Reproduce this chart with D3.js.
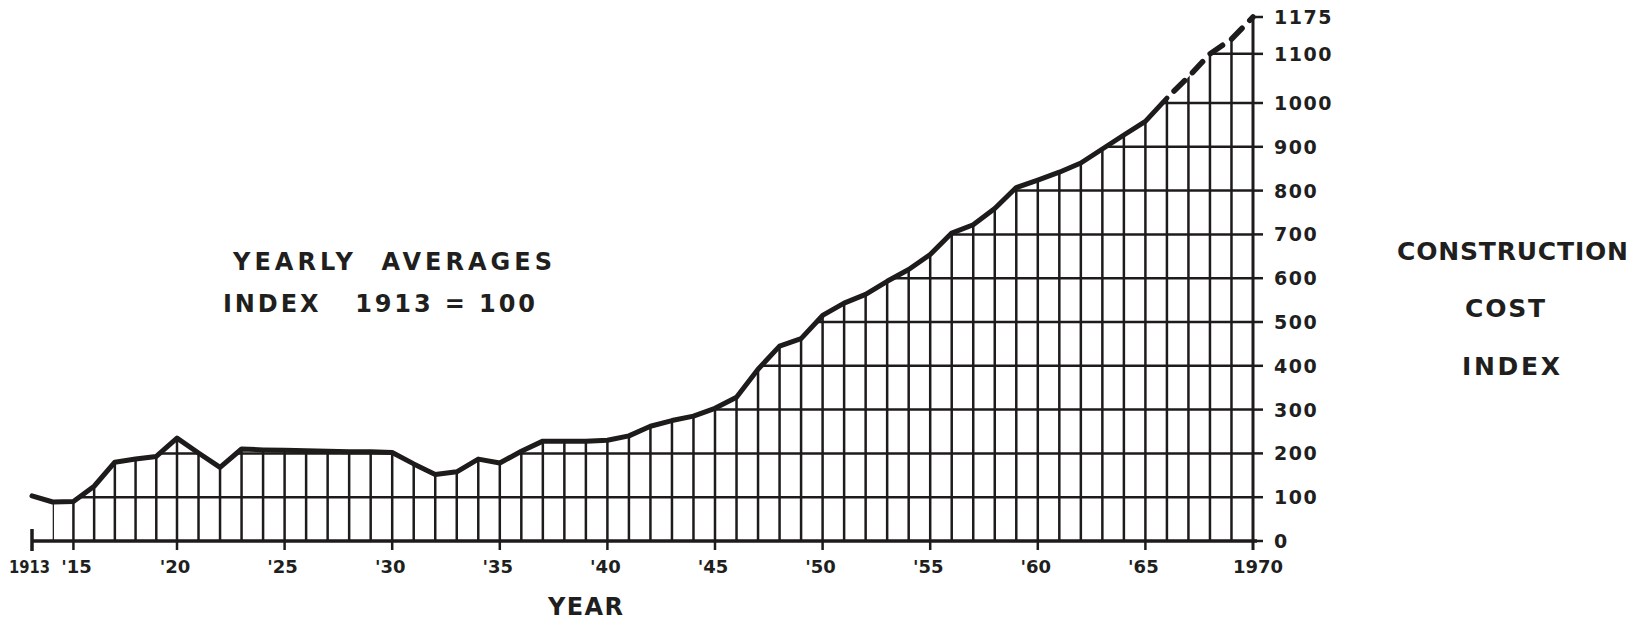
<!DOCTYPE html>
<html>
<head>
<meta charset="utf-8">
<script src="https://cdn.jsdelivr.net/npm/d3@7"></script>
<style>
  body { margin: 0; background: #fff; }
  text { font-family: "DejaVu Sans", "Liberation Sans", sans-serif; font-weight: bold; fill: #211e1e; white-space: pre; }
</style>
</head>
<body>
<script>
// Construction cost index, yearly averages (1913 = 100)
var years = [1913, 1914, 1915, 1916, 1917, 1918, 1919, 1920, 1921, 1922,
             1923, 1924, 1925, 1926, 1927, 1928, 1929, 1930, 1931, 1932,
             1933, 1934, 1935, 1936, 1937, 1938, 1939, 1940, 1941, 1942,
             1943, 1944, 1945, 1946, 1947, 1948, 1949, 1950, 1951, 1952,
             1953, 1954, 1955, 1956, 1957, 1958, 1959, 1960, 1961, 1962,
             1963, 1964, 1965, 1966, 1967, 1968, 1969, 1970];
var costIndex = [103, 89, 90, 125, 180, 187, 193, 235, 201, 168,
                 210, 208, 207, 206, 205, 204, 204, 202, 176, 152,
                 158, 187, 178, 205, 228, 228, 228, 230, 240, 262,
                 275, 285, 303, 328, 392, 445, 462, 515, 543, 563,
                 593, 620, 654, 703, 722, 759, 807, 824, 842, 863,
                 895, 927, 958, 1010, 1053, 1100, 1130, 1175];
var projectedFrom = 1966;   // dashed after this year

var xTickYears  = [1913, 1915, 1920, 1925, 1930, 1935, 1940, 1945, 1950, 1955, 1960, 1965, 1970];
var xTickLabels = ["1913", "'15", "'20", "'25", "'30", "'35", "'40", "'45", "'50", "'55", "'60", "'65", "1970"];
var yTicks      = [0, 100, 200, 300, 400, 500, 600, 700, 800, 900, 1000, 1100, 1175];
var gridValues  = [100, 200, 300, 400, 500, 600, 700, 800, 900, 1000, 1100];

var width = 1635,
    height = 625,
    ink = "#1e1b1b";

// hand-drawn original: slightly tighter spacing before 1920 and above 1000
var x = d3.scaleLinear().domain([1913, 1920, 1970]).range([32, 177, 1253]);
var y = d3.scaleLinear().domain([0, 1000, 1175]).range([541, 103, 17]);

var data = years.map(function(yr, i) { return {year: yr, value: costIndex[i]}; });

var svg = d3.select("body").append("svg")
    .attr("width", width)
    .attr("height", height);

// area under the curve is used to cut the grid
var area = d3.area()
    .x(function(d) { return x(d.year); })
    .y0(y(0))
    .y1(function(d) { return y(d.value); });

svg.append("clipPath").attr("id", "under")
  .append("path")
    .datum(data.filter(function(d) { return d.year >= 1914; }))
    .attr("d", area);

var grid = svg.append("g")
    .attr("clip-path", "url(#under)")
    .attr("stroke", ink)
    .attr("stroke-width", 2.5);

grid.selectAll("line.v")
    .data(years.filter(function(yr) { return yr > 1913 && yr < 1970; }))
    .enter().append("line")
    .attr("class", "v")
    .attr("x1", function(d) { return x(d); })
    .attr("x2", function(d) { return x(d); })
    .attr("y1", y(0))
    .attr("y2", y(1175));

grid.selectAll("line.h")
    .data(gridValues)
    .enter().append("line")
    .attr("class", "h")
    .attr("x1", x(1913))
    .attr("x2", x(1970))
    .attr("y1", function(d) { return y(d); })
    .attr("y2", function(d) { return y(d); });

// baseline
svg.append("line")
    .attr("x1", x(1913)).attr("x2", x(1970) + 4)
    .attr("y1", y(0)).attr("y2", y(0))
    .attr("stroke", ink).attr("stroke-width", 3.5);

// start cap at 1913
svg.append("line")
    .attr("x1", x(1913)).attr("x2", x(1913))
    .attr("y1", y(0) - 12).attr("y2", y(0) + 10)
    .attr("stroke", ink).attr("stroke-width", 3.5);

// right axis (1970)
svg.append("line")
    .attr("x1", x(1970)).attr("x2", x(1970))
    .attr("y1", y(0) + 9).attr("y2", y(1175))
    .attr("stroke", ink).attr("stroke-width", 3);

// x ticks below the baseline
svg.append("g").selectAll("line")
    .data(xTickYears.slice(1, -1))
    .enter().append("line")
    .attr("x1", function(d) { return x(d); })
    .attr("x2", function(d) { return x(d); })
    .attr("y1", y(0))
    .attr("y2", y(0) + 9)
    .attr("stroke", ink).attr("stroke-width", 2.5);

// y ticks to the right
svg.append("g").selectAll("line")
    .data(yTicks)
    .enter().append("line")
    .attr("x1", x(1970))
    .attr("x2", x(1970) + 10)
    .attr("y1", function(d) { return y(d); })
    .attr("y2", function(d) { return y(d); })
    .attr("stroke", ink).attr("stroke-width", 2.5);

// the index line: solid, then dashed projection
var line = d3.line()
    .x(function(d) { return x(d.year); })
    .y(function(d) { return y(d.value); });

svg.append("path")
    .datum(data.filter(function(d) { return d.year <= projectedFrom; }))
    .attr("d", line)
    .attr("fill", "none")
    .attr("stroke", ink)
    .attr("stroke-width", 5)
    .attr("stroke-linejoin", "round")
    .attr("stroke-linecap", "round");

svg.append("path")
    .datum(data.filter(function(d) { return d.year >= projectedFrom; }))
    .attr("d", line)
    .attr("fill", "none")
    .attr("stroke", ink)
    .attr("stroke-width", 5.5)
    .attr("stroke-dasharray", "15,11")
    .attr("stroke-dashoffset", -10)
    .attr("stroke-linecap", "round");

// x labels
svg.append("g").selectAll("text")
    .data(xTickYears)
    .enter().append("text")
    .attr("x", function(d, i) {
        if (i === 0) return 9;
        return x(d) + (i === 1 ? 3 : (i === 12 ? 5 : -2));
    })
    .attr("y", 573)
    .attr("text-anchor", function(d, i) { return i === 0 ? "start" : "middle"; })
    .attr("font-size", 18)
    .each(function(d, i) {
        // the lettered "1913" is narrow in the original
        if (i === 0) d3.select(this).attr("textLength", 41).attr("lengthAdjust", "spacingAndGlyphs");
    })
    .text(function(d, i) { return xTickLabels[i]; });

// y labels
svg.append("g").selectAll("text")
    .data(yTicks)
    .enter().append("text")
    .attr("x", 1274)
    .attr("y", function(d) { return y(d); })
    .attr("dy", "0.37em")
    .attr("font-size", 19)
    .attr("letter-spacing", 1.5)
    .text(function(d) { return d; });

svg.append("text")
    .attr("x", 548).attr("y", 615)
    .attr("font-size", 24)
    .attr("textLength", 75)
    .attr("lengthAdjust", "spacing")
    .text("YEAR");

svg.append("text")
    .attr("x", 233).attr("y", 270)
    .attr("font-size", 24)
    .attr("textLength", 319)
    .attr("lengthAdjust", "spacing")
    .text("YEARLY  AVERAGES");

svg.append("text")
    .attr("x", 223).attr("y", 312)
    .attr("font-size", 24)
    .attr("textLength", 312)
    .attr("lengthAdjust", "spacing")
    .text("INDEX   1913 = 100");

// side title, [text, left, baseline, width]
var side = [["CONSTRUCTION", 1397, 260, 231], ["COST", 1465, 317, 80], ["INDEX", 1462, 375, 98]];
svg.append("g").selectAll("text")
    .data(side)
    .enter().append("text")
    .attr("x", function(d) { return d[1]; })
    .attr("y", function(d) { return d[2]; })
    .attr("font-size", 25)
    .attr("textLength", function(d) { return d[3]; })
    .attr("lengthAdjust", "spacing")
    .text(function(d) { return d[0]; });
</script>
</body>
</html>
